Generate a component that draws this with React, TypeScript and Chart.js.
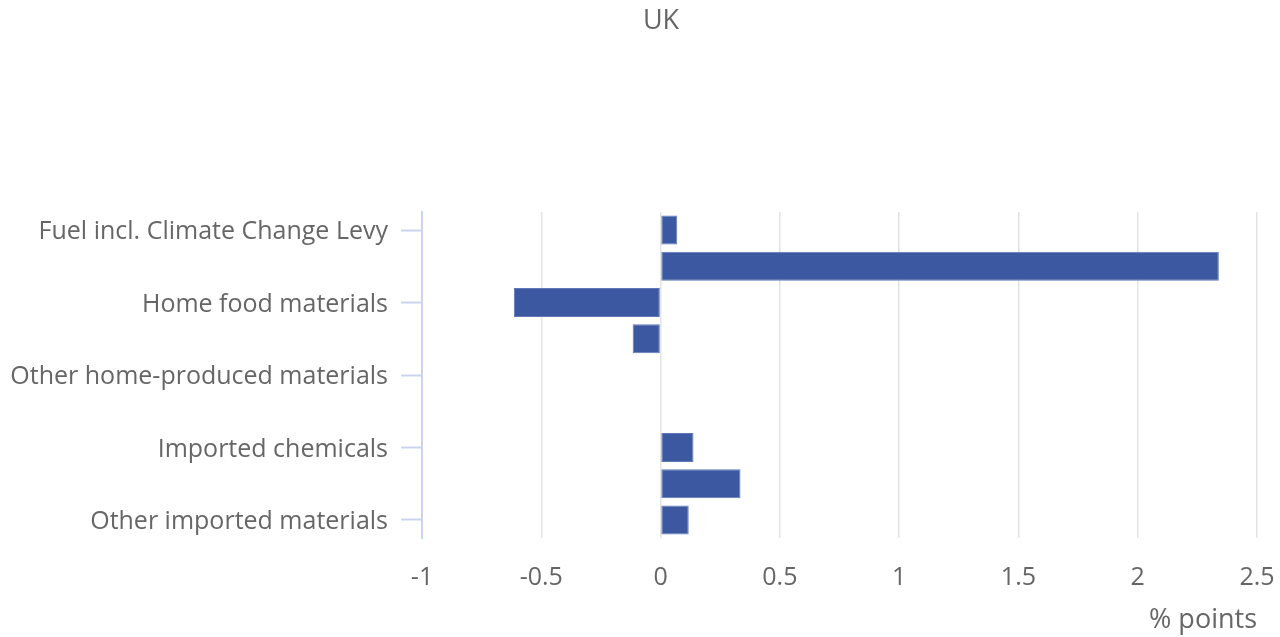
import React, { useEffect, useRef } from "react";
import { Chart, registerables } from "chart.js";

Chart.register(...registerables);

const chartTitle = "UK";
const categories = [
  "Fuel incl. Climate Change Levy",
  "Crude oil",
  "Home food materials",
  "Imported food materials",
  "Other home-produced materials",
  "Imported metals",
  "Imported chemicals",
  "Imported parts and equipment",
  "Other imported materials",
];
const values = [0.07, 2.34, -0.615, -0.117, 0, 0, 0.138, 0.335, 0.118];
const xMin = -1;
const xMax = 2.5;
const xStep = 0.5;
const xAxisTitle = "% points";

const FONT = "'Open Sans', 'Noto Sans', sans-serif";
const TEXT = "#666666";
const BAR = "rgb(59,88,160)";
const BAR_EDGE = "rgb(96,120,186)";
const AXIS_BLUE = "#c9d5ee";
const GRID = "#e4e4e4";

const titlePlugin = {
  id: "ukTitle",
  afterDraw(chart: any) {
    const ctx = chart.ctx;
    ctx.save();
    ctx.font = `27px ${FONT}`;
    ctx.fillStyle = TEXT;
    ctx.textAlign = "center";
    ctx.textBaseline = "middle";
    ctx.fillText(chartTitle, 661, 21);
    ctx.restore();
  },
};

export default function App() {
  const ref = useRef<HTMLCanvasElement | null>(null);
  useEffect(() => {
    if (!ref.current) return;
    const chart = new Chart(ref.current, {
      type: "bar",
      data: {
        labels: categories,
        datasets: [
          {
            data: values,
            backgroundColor: BAR,
            borderColor: BAR_EDGE,
            borderWidth: (c: any) => (c.raw === 0 ? 0 : 1),
            borderSkipped: false,
            categoryPercentage: 1,
            barPercentage: 0.8,
          },
        ],
      },
      options: {
        animation: false,
        responsive: true,
        maintainAspectRatio: false,
        indexAxis: "y",
        layout: { padding: { top: 212, right: 23, left: 0, bottom: 0 } },
        plugins: {
          legend: { display: false },
          title: { display: false },
          tooltip: { enabled: false },
        },
        scales: {
          x: {
            type: "linear",
            min: xMin,
            max: xMax,
            afterFit: (s: any) => {
              s.height = 99;
              s.paddingLeft = 0;
              s.paddingRight = 0;
            },
            ticks: {
              stepSize: xStep,
              padding: 25,
              color: TEXT,
              font: { family: FONT, size: 25 },
              callback: (v: any) => String(Math.round(Number(v) * 10) / 10),
            },
            grid: { color: GRID, lineWidth: 1.5, drawTicks: false },
            border: { display: false },
            title: {
              display: true,
              text: xAxisTitle,
              align: "end",
              color: TEXT,
              font: { family: FONT, size: 27 },
              padding: { top: 0, bottom: 0 },
            },
          },
          y: {
            type: "category",
            afterFit: (s: any) => {
              s.width = 422;
            },
            ticks: {
              autoSkip: false,
              padding: 13,
              labelOffset: 2,
              color: TEXT,
              font: { family: FONT, size: 25 },
              callback: (_v: any, i: number) => (i % 2 === 0 ? categories[i] : ""),
            },
            grid: {
              drawOnChartArea: false,
              offset: false,
              tickLength: 21,
              tickWidth: 2,
              tickColor: (c: any) => (c.index % 2 === 0 ? AXIS_BLUE : "rgba(0,0,0,0)"),
            },
            border: { display: true, color: AXIS_BLUE, width: 2 },
          },
        },
      } as any,
      plugins: [titlePlugin],
    });
    return () => chart.destroy();
  }, []);
  return (
    <div style={{ position: "fixed", left: 0, top: 0, width: 1280, height: 637, background: "#fff" }}>
      <canvas ref={ref} />
    </div>
  );
}
